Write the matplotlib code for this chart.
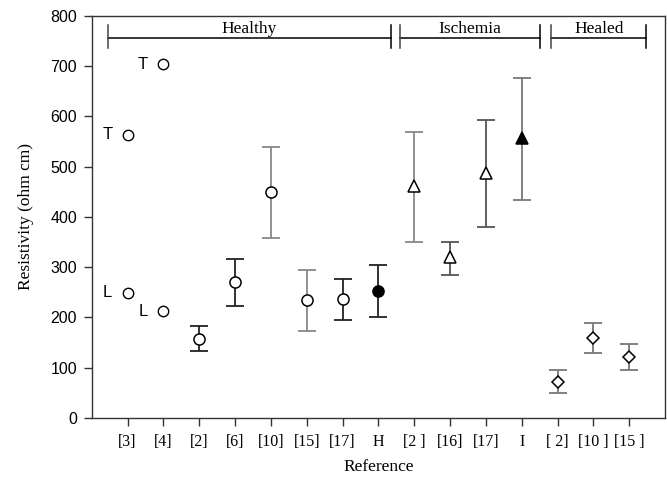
import numpy as np
import matplotlib
matplotlib.use("Agg")
import matplotlib.pyplot as plt

# categories on the x axis (reference numbers)
labels = ["[3]", "[4]", "[2]", "[6]", "[10]", "[15]", "[17]", "H",
          "[2 ]", "[16]", "[17]", "I", "[ 2]", "[10 ]", "[15 ]"]

# single-value studies with transverse (T) / longitudinal (L) readings
tl_idx = [0, 0, 1, 1]
tl_tag = ["T", "L", "T", "L"]
tl_val = [563, 249, 704, 212]

# studies with a range: mean, lower and upper end of the bar
healthy_idx = [2, 3, 4, 5, 6]
healthy_mean = [157, 271, 450, 234, 236]
healthy_lo = [133, 223, 358, 173, 194]
healthy_hi = [183, 317, 539, 295, 277]

h_mean, h_lo, h_hi = 253, 201, 305

isch_idx = [8, 9, 10]
isch_mean = [462, 320, 488]
isch_lo = [350, 285, 380]
isch_hi = [568, 349, 592]

i_mean, i_lo, i_hi = 557, 434, 677

healed_idx = [12, 13, 14]
healed_mean = [72, 158, 121]
healed_lo = [49, 128, 95]
healed_hi = [95, 188, 146]

groups = ["Healthy", "Ischemia", "Healed"]
group_span = [(-0.54, 7.35), (7.6, 11.52), (11.82, 14.48)]

serif = "Liberation Serif"
sans = "Liberation Sans"

fig = plt.figure(figsize=(6.67, 4.83), dpi=100)
ax = fig.add_axes([0.1375, 0.135, 0.8595, 0.832])


def bars(ax, xs, m, lo, hi, marker, face, colors, ms):
    for x, mm, l, h, c in zip(xs, m, lo, hi, colors):
        ax.errorbar([x], [mm], yerr=[[mm - l], [h - mm]], fmt="none",
                    ecolor=c, elinewidth=1.3, capsize=6.5, capthick=1.3, zorder=2)
    ax.plot(xs, m, linestyle="none", marker=marker, markersize=ms,
            markerfacecolor=face, markeredgecolor="black", markeredgewidth=1.1, zorder=3)


bars(ax, healthy_idx, healthy_mean, healthy_lo, healthy_hi, "o", "white",
     ["#222222", "#222222", "#888888", "#888888", "#222222"], 8)
bars(ax, [7], [h_mean], [h_lo], [h_hi], "o", "black", ["#222222"], 8)
bars(ax, isch_idx, isch_mean, isch_lo, isch_hi, "^", "white",
     ["#888888", "#555555", "#555555"], 8)
bars(ax, [11], [i_mean], [i_lo], [i_hi], "^", "black", ["#777777"], 8)
bars(ax, healed_idx, healed_mean, healed_lo, healed_hi, "D", "white",
     ["#777777", "#777777", "#777777"], 6.5)

ax.plot(tl_idx, tl_val, linestyle="none", marker="o", markersize=7.5,
        markerfacecolor="white", markeredgecolor="black", markeredgewidth=1.0, zorder=3)
for x, t, v in zip(tl_idx, tl_tag, tl_val):
    ax.annotate(t, (x, v), xytext=(-11, 0), textcoords="offset points",
                ha="right", va="center", fontsize=12, family=sans)

# group brackets along the top
yb, yt, ybot = 757, 782, 736
for name, (a, b) in zip(groups, group_span):
    ax.plot([a, b], [yb, yb], color="black", lw=1.1)
    ax.plot([a, a], [ybot, yt], color="#444444", lw=1.1)
    ax.plot([b, b], [ybot, yt], color="black", lw=1.1)
    ax.text((a + b) / 2, yb + 2, name, ha="center", va="bottom",
            fontsize=12.5, family=serif)

ax.set_xlim(-1, 15)
ax.set_ylim(0, 800)
ax.set_xticks(range(len(labels)))
ax.set_xticklabels(labels, family=serif, fontsize=11.5)
ax.set_yticks(range(0, 801, 100))
for t in ax.get_yticklabels():
    t.set_family(sans)
    t.set_fontsize(11.5)
ax.tick_params(direction="out", length=6, width=1, color="#333333", pad=4.5)
ax.tick_params(axis="x", pad=6)
for s in ax.spines.values():
    s.set_linewidth(1.0)
    s.set_color("#333333")

ax.set_xlabel("Reference", family=serif, fontsize=12.5, labelpad=6)
ax.set_ylabel("Resistivity (ohm cm)", family=serif, fontsize=12.5, labelpad=12)

fig.savefig("out.png", dpi=100)
